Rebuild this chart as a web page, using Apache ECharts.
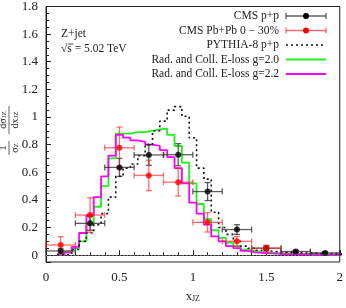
<!DOCTYPE html>
<html>
<head>
<meta charset="utf-8">
<script src="https://cdn.jsdelivr.net/npm/echarts@6/dist/echarts.min.js"></script>
<style>html,body{margin:0;padding:0;background:#fff}#c{width:346px;height:308px}</style>
</head>
<body>
<div id="c"></div>
<script>
// ---- data ----
const binCenters = [0.10,0.15,0.20,0.25,0.30,0.35,0.40,0.45,0.50,0.55,0.60,0.65,0.70,0.75,0.80,0.85,0.90,0.95,1.00,1.05,1.10,1.15,1.20,1.25,1.30,1.35,1.40,1.45,1.50,1.55,1.60,1.65,1.70,1.75,1.80,1.85,1.90,1.95,2.00];
const binHalfWidth = 0.025;
const pythia = [0,0.005,0.04,0.10,0.16,0.22,0.30,0.42,0.57,0.63,0.66,0.72,0.80,0.90,0.97,1.05,1.075,1.005,0.85,0.63,0.55,0.31,0.20,0.15,0.10,0.065,0.05,0.035,0.03,0.025,0.02,0.02,0.018,0.015,0.015,0.012,0.01,0.01,0.008];
const eloss20 = [0.005,0.02,0.05,0.10,0.22,0.35,0.50,0.70,0.88,0.88,0.89,0.89,0.90,0.91,0.915,0.87,0.79,0.67,0.52,0.37,0.26,0.18,0.125,0.09,0.065,0.04,0.03,0.022,0.018,0.014,0.012,0.01,0.008,0.007,0.006,0.005,0.004,0.004,0.003];
const eloss22 = [0.0,0.02,0.06,0.16,0.29,0.42,0.57,0.72,0.87,0.85,0.83,0.82,0.80,0.79,0.76,0.71,0.63,0.52,0.38,0.30,0.22,0.135,0.10,0.065,0.05,0.03,0.02,0.016,0.012,0.01,0.008,0.007,0.006,0.005,0.004,0.004,0.003,0.003,0.003];

const ppX    = [0.1,0.3,0.5,0.7,0.9,1.1,1.3,1.5,1.7,1.9];
const ppY    = [0.03,0.23,0.635,0.725,0.727,0.46,0.185,0.05,0.026,0.016];
const ppXErr = [0.1,0.1,0.1,0.1,0.1,0.1,0.1,0.1,0.1,0.1];
const ppYErr = [0.015,0.05,0.065,0.075,0.08,0.065,0.035,0.015,0.008,0.008];

const pbX    = [0.1,0.3,0.5,0.7,0.9,1.1,1.3,1.5];
const pbY    = [0.073,0.29,0.777,0.577,0.528,0.237,0.10,0.05];
const pbXErr = [0.1,0.1,0.1,0.1,0.1,0.1,0.1,0.1];
const pbYErr = [0.06,0.125,0.15,0.11,0.10,0.07,0.035,0.022];

const xTicks = [0,0.5,1,1.5,2];
const yTicks = [0,0.2,0.4,0.6,0.8,1,1.2,1.4,1.6,1.8];

const names = ['CMS p+p','CMS Pb+Pb 0 \u2212 30%','PYTHIA-8 p+p','Rad. and Coll. E-loss g=2.0','Rad. and Coll. E-loss g=2.2'];

// ---- styles ----
const serif = '"Liberation Serif","DejaVu Serif",serif';
const C_PP = '#000', C_PP_ERR = 'rgba(40,40,40,0.75)';
const C_PB = '#ff0000', C_PB_ERR = 'rgba(255,30,30,0.65)';
const C_G = '#22ee22', C_M = '#ff00ff', C_PY = '#111';

// ---- helpers ----
function stepData(vals){
  const out = [];
  binCenters.forEach((c,i)=>{ out.push([c-binHalfWidth, vals[i]]); out.push([c+binHalfWidth, vals[i]]); });
  return out;
}
function errData(xs, ys, xe, ye){ return xs.map((x,i)=>[x, ys[i], xe[i], ye[i]]); }
function errShapes(l, r, t, b, color){
  const cap = 3;
  const st = {stroke: color, lineWidth: 1.3};
  const out = [
    {type:'line', shape:{x1:l[0],y1:l[1],x2:r[0],y2:r[1]}, style:st},
    {type:'line', shape:{x1:l[0],y1:l[1]-cap,x2:l[0],y2:l[1]+cap}, style:st},
    {type:'line', shape:{x1:r[0],y1:r[1]-cap,x2:r[0],y2:r[1]+cap}, style:st}
  ];
  if (t && b) out.push(
    {type:'line', shape:{x1:t[0],y1:t[1],x2:b[0],y2:b[1]}, style:st},
    {type:'line', shape:{x1:t[0]-cap,y1:t[1],x2:t[0]+cap,y2:t[1]}, style:st},
    {type:'line', shape:{x1:b[0]-cap,y1:b[1],x2:b[0]+cap,y2:b[1]}, style:st});
  return out;
}
function errRender(color){
  return function(params, api){
    const x = api.value(0), y = api.value(1), xe = api.value(2), ye = api.value(3);
    return {type:'group', children: errShapes(api.coord([x-xe,y]), api.coord([x+xe,y]), api.coord([x,y+ye]), api.coord([x,y-ye]), color)};
  };
}

// ---- hand-built legend (text right-aligned, key on the right) ----
const legTextRight = 279, legKeyL = 286, legKeyR = 326, legTop = 16, legStep = 14.5;
const legend = [];
names.forEach((n,i)=>{
  const y = legTop + i*legStep;
  legend.push({type:'text', x:legTextRight, y:y, style:{text:n, font:'11.5px '+serif, fill:'#222', textAlign:'right', textVerticalAlign:'middle'}});
  if (i < 2) {
    const col = i===0 ? C_PP_ERR : C_PB_ERR;
    errShapes([legKeyL,y],[legKeyR,y],null,null,col).forEach(s=>legend.push(s));
    legend.push({type:'circle', shape:{cx:(legKeyL+legKeyR)/2, cy:y, r:3}, style:{fill: i===0?C_PP:C_PB}});
  } else {
    const ls = i===2 ? {stroke:C_PY, lineWidth:1.6, lineDash:[2,3]} : {stroke: i===3?C_G:C_M, lineWidth:1.8};
    legend.push({type:'line', shape:{x1:legKeyL,y1:y,x2:legKeyR,y2:y}, style:ls});
  }
});

const fs = '10px ', fsSub = '7px ';
const chart = echarts.init(document.getElementById('c'), null, {renderer:'canvas'});
chart.setOption({
  animation:false,
  backgroundColor:'#fff',
  grid:{left:46,right:4,top:5,bottom:40,show:true,borderColor:'#222',borderWidth:1,backgroundColor:'transparent'},
  xAxis:{
    type:'value', min:xTicks[0], max:xTicks[xTicks.length-1], interval:0.5,
    axisLine:{lineStyle:{color:'#222'}},
    axisTick:{inside:true, length:5, lineStyle:{color:'#222'}},
    minorTick:{show:true, splitNumber:5, length:3, lineStyle:{color:'#222'}},
    splitLine:{show:false},
    axisLabel:{fontFamily:serif, fontSize:13, color:'#222', margin:9},
    name:'{m|x}{s|JZ}', nameLocation:'middle', nameGap:27,
    nameTextStyle:{rich:{m:{fontFamily:serif,fontSize:12,color:'#222',verticalAlign:'bottom',lineHeight:14},s:{fontFamily:serif,fontSize:8,color:'#222',verticalAlign:'bottom',lineHeight:11}}}
  },
  yAxis:{
    type:'value', min:-0.05, max:1.8, splitNumber:9,
    axisLine:{lineStyle:{color:'#222'}},
    axisTick:{inside:true, length:5, lineStyle:{color:'#222'}},
    minorTick:{show:true, splitNumber:4, length:3, lineStyle:{color:'#222'}},
    splitLine:{show:false},
    axisLabel:{fontFamily:serif, fontSize:13, color:'#222', margin:8, showMinLabel:false,
      formatter:function(v){ return yTicks.some(t=>Math.abs(t-v)<1e-6) ? String(+v.toFixed(1)) : ''; }}
  },
  graphic:[
    {type:'text', left:61, top:28, style:{text:'Z+jet', font:'11.5px '+serif, fill:'#222'}},
    {type:'text', left:61, top:43, style:{text:'\u221As = 5.02 TeV', font:'11.5px '+serif, fill:'#222'}},
    {type:'line', shape:{x1:68,y1:44,x2:73.5,y2:44}, style:{stroke:'#222',lineWidth:0.8}},
    {type:'group', x:9, y:126, rotation:Math.PI/2, children:[
      {type:'text', style:{text:'1', x:-22, y:-1, font:fs+serif, fill:'#222', textAlign:'center', textVerticalAlign:'bottom'}},
      {type:'line', shape:{x1:-29,y1:0,x2:-15,y2:0}, style:{stroke:'#222',lineWidth:0.7}},
      {type:'text', style:{text:'{a|\u03C3}{b|Z}', x:-22, y:1, textAlign:'center', textVerticalAlign:'top',
        rich:{a:{font:fs+serif, fill:'#222'}, b:{font:fsSub+serif, fill:'#222', verticalAlign:'bottom'}}}},
      {type:'text', style:{text:'{a|d\u03C3}{b|JZ}', x:6, y:-1, textAlign:'center', textVerticalAlign:'bottom',
        rich:{a:{font:fs+serif, fill:'#222'}, b:{font:fsSub+serif, fill:'#222', verticalAlign:'bottom'}}}},
      {type:'line', shape:{x1:-8,y1:0,x2:20,y2:0}, style:{stroke:'#222',lineWidth:0.7}},
      {type:'text', style:{text:'{a|dx}{b|JZ}', x:6, y:1, textAlign:'center', textVerticalAlign:'top',
        rich:{a:{font:fs+serif, fill:'#222'}, b:{font:fsSub+serif, fill:'#222', verticalAlign:'bottom'}}}}
    ]},
    {type:'group', silent:true, children:legend}
  ],
  series:[
    {name:names[3], type:'line', data:stepData(eloss20), showSymbol:false, symbol:'none', z:3,
      lineStyle:{color:C_G, width:1.8}, itemStyle:{color:C_G},
      markLine:{silent:true, symbol:'none', label:{show:false}, data:[{yAxis:0}],
        lineStyle:{color:'#777', type:[1.5,2], width:1}}},
    {name:names[4], type:'line', data:stepData(eloss22), showSymbol:false, symbol:'none', z:3,
      lineStyle:{color:C_M, width:1.8}, itemStyle:{color:C_M}},
    {name:names[2], type:'line', data:stepData(pythia), showSymbol:false, symbol:'none', z:3,
      lineStyle:{color:C_PY, width:1.6, type:[2,3]}, itemStyle:{color:C_PY}},
    {name:'ppErr', type:'custom', renderItem:errRender(C_PP_ERR), data:errData(ppX,ppY,ppXErr,ppYErr),
      encode:{x:0,y:1}, z:4},
    {name:'pbErr', type:'custom', renderItem:errRender(C_PB_ERR), data:errData(pbX,pbY,pbXErr,pbYErr),
      encode:{x:0,y:1}, z:5},
    {name:names[0], type:'scatter', data:ppX.map((x,i)=>[x,ppY[i]]), symbolSize:6, z:6,
      itemStyle:{color:C_PP}},
    {name:names[1], type:'scatter', data:pbX.map((x,i)=>[x,pbY[i]]), symbolSize:6, z:7,
      itemStyle:{color:C_PB}}
  ]
});
</script>
</body>
</html>
